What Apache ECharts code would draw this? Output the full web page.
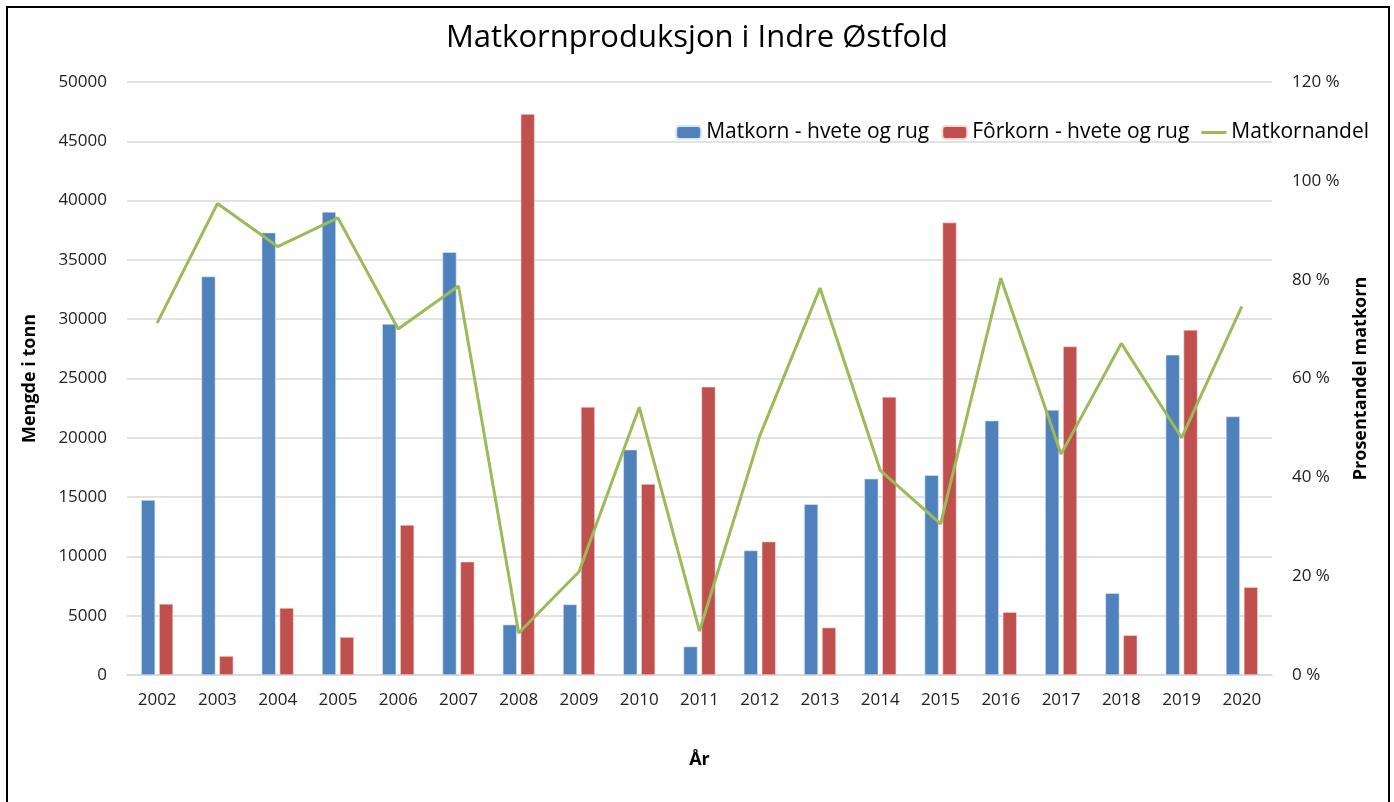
<!DOCTYPE html>
<html>
<head>
<meta charset="utf-8">
<title>Matkornproduksjon i Indre Østfold</title>
<script src="https://cdn.jsdelivr.net/npm/echarts@6/dist/echarts.min.js"></script>
<style>
  html, body { margin: 0; padding: 0; background: #fff; }
  #main { width: 1394px; height: 802px; }
  #frame { position: absolute; left: 6px; top: 6px; width: 1380px; height: 810px; border: 2px solid #000; pointer-events: none; }
</style>
</head>
<body>
<div id="main"></div>
<div id="frame"></div>
<script>
// data
var years = ['2002', '2003', '2004', '2005', '2006', '2007', '2008', '2009', '2010', '2011',
  '2012', '2013', '2014', '2015', '2016', '2017', '2018', '2019', '2020'];
var matkorn = [14750, 33600, 37300, 39050, 29600, 35650, 4250, 5950, 19000, 2400,
  10500, 14400, 16550, 16850, 21450, 22350, 6900, 27000, 21800];
var forkorn = [6000, 1600, 5650, 3200, 12650, 9550, 47300, 22600, 16100, 24300,
  11250, 4000, 23450, 38150, 5300, 27700, 3350, 29100, 7400];
var andel = [71.2, 95.4, 86.7, 92.5, 70.0, 78.7, 8.5, 20.9, 54.2, 8.9,
  48.4, 78.3, 41.4, 30.6, 80.3, 44.7, 67.1, 48.0, 74.6];

var font = 'Open Sans';
var myChart = echarts.init(document.getElementById('main'));

var option = {
  backgroundColor: '#fff',
  textStyle: { fontFamily: font },
  title: {
    text: 'Matkornproduksjon i Indre Østfold',
    left: 'center',
    top: 18,
    textStyle: { fontFamily: font, fontSize: 31, fontWeight: 'normal', color: '#000' }
  },
  legend: {
    right: 20,
    top: 117,
    itemWidth: 25,
    itemHeight: 13,
    itemGap: 12,
    textStyle: { fontFamily: font, fontSize: 21, color: '#000' },
    data: [
      'Matkorn - hvete og rug',
      'Fôrkorn - hvete og rug',
      { name: 'Matkornandel', icon: 'path://M0,0 L25,0 L25,3 L0,3 Z' }
    ]
  },
  grid: { left: 127, right: 122, top: 82, bottom: 127 },
  xAxis: {
    type: 'category',
    data: years,
    name: 'År',
    nameLocation: 'middle',
    nameGap: 76,
    nameTextStyle: { fontFamily: font, fontSize: 18, fontWeight: 'bold', color: '#000' },
    axisTick: { show: false },
    axisLine: { lineStyle: { color: '#d9d9d9', width: 1.5 } },
    axisLabel: { fontFamily: font, fontSize: 17, color: '#222', margin: 17 }
  },
  yAxis: [{
    type: 'value',
    min: 0,
    max: 50000,
    interval: 5000,
    name: 'Mengde i tonn',
    nameLocation: 'middle',
    nameGap: 88,
    nameTextStyle: { fontFamily: font, fontSize: 18, fontWeight: 'bold', color: '#000' },
    axisLabel: { fontFamily: font, fontSize: 17, color: '#222', margin: 20, formatter: function (v) { return String(v); } },
    splitLine: { lineStyle: { color: '#d9d9d9', width: 1.5 } },
    axisLine: { show: false },
    axisTick: { show: false }
  }, {
    type: 'value',
    min: 0,
    max: 120,
    interval: 20,
    name: 'Prosentandel matkorn',
    nameLocation: 'middle',
    nameGap: 80,
    nameRotate: 90,
    nameTextStyle: { fontFamily: font, fontSize: 18, fontWeight: 'bold', color: '#000' },
    axisLabel: { fontFamily: font, fontSize: 17, color: '#222', margin: 20, formatter: '{value} %' },
    splitLine: { show: false },
    axisLine: { show: false },
    axisTick: { show: false }
  }],
  series: [{
    name: 'Matkorn - hvete og rug',
    type: 'bar',
    data: matkorn,
    barWidth: 14,
    barGap: '28%',
    itemStyle: { color: '#4F81BD', borderColor: '#dbe6f3', borderWidth: 0.6 }
  }, {
    name: 'Fôrkorn - hvete og rug',
    type: 'bar',
    data: forkorn,
    barWidth: 14,
    itemStyle: { color: '#C0504D', borderColor: '#f3dad9', borderWidth: 0.6 }
  }, {
    name: 'Matkornandel',
    type: 'line',
    yAxisIndex: 1,
    data: andel,
    symbol: 'none',
    z: 5,
    lineStyle: { color: '#9BBB59', width: 3 },
    itemStyle: { color: '#9BBB59' }
  }]
};

myChart.setOption(option);
</script>
</body>
</html>
